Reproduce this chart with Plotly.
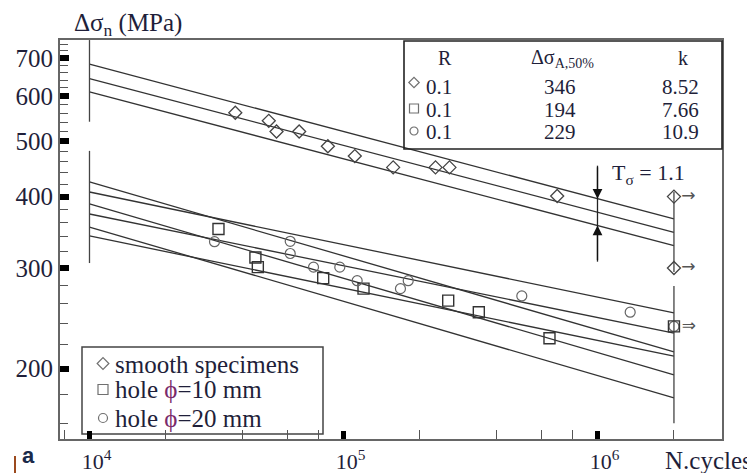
import math
import plotly.graph_objects as go

# ---------------- data ----------------
# smooth specimens (diamonds)
smooth_N = [37500, 50800, 54500, 66900, 86800, 110800, 156900, 230300, 261400, 693900]
smooth_S = [561, 543, 520, 520, 490, 471, 450, 450, 450, 401]
smooth_runout_S = [400, 300]

# hole phi = 10 mm (squares)
hole10_N = [32200, 45000, 46000, 83200, 119900, 258400, 341000, 647100]
hole10_S = [351, 313, 301, 288, 276, 263, 251, 226]
hole10_runout_S = [237]

# hole phi = 20 mm (circles)
hole20_N = [31060, 61700, 61700, 76200, 96700, 113200, 179800, 167600, 503500, 1345000]
hole20_S = [333.5, 334, 318, 301, 301, 285, 285, 276, 268, 251]
hole20_runout_S = [237]

runout_N = 2e6

# scatter bands (upper, median, lower) given at N = 1e4 and N = 2e6
band_N = [1e4, 2e6]
smooth_band = [[682.1, 365.5], [643.6, 346.4], [609.9, 328.2]]
hole10_band = [[424.3, 213.8], [388.3, 194.9], [353.8, 177.6]]
hole20_band = [[407.5, 250.2], [372.9, 230.7], [341.3, 210.3]]

# vertical limit lines at N = 1e4 and N = 2e6
limit_N = [1e4, 1e4, None, 1e4, 1e4, None, 2e6, 2e6, None, 2e6, 2e6]
limit_S = [752, 541, None, 481, 306, None, 408, 295, None, 279, 160.4]

# T_sigma indicator at N = 1e6
tsig_N = [1e6, 1e6]
tsig_line_S = [453.1, 307.7]
tsig_tip_S = [396.6, 355.9]
tsig_text = "T<sub>σ</sub> = 1.1"

# table
table_R = ["0.1", "0.1", "0.1"]
table_dsA = ["346", "194", "229"]
table_k = ["8.52", "7.66", "10.9"]

# axis ticks
y_tickvals = [200, 300, 400, 500, 600, 700]
y_ticktext = ["200", "300", "400", "500", "600", "700"]
y_minor = [v for v in range(160, 760, 20) if v not in y_tickvals]
x_tickvals = [1e4, 1e5, 1e6]
x_ticktext = ["10<sup>4</sup>", "10<sup>5</sup>", "10<sup>6</sup>"]
x_minor = [8e3, 2e4, 4e4, 6e4, 8e4, 2e5, 4e5, 6e5, 8e5, 2e6]

legend_labels = ["smooth specimens",
                 "hole <span style='color:#7a2a6a'>ϕ</span>=10 mm",
                 "hole <span style='color:#7a2a6a'>ϕ</span>=20 mm"]

# ---------------- layout helpers ----------------
# the page body keeps an 8 px default margin, so the figure is sized to fit the window
OFF = 8
W, H = 755 - OFF, 473 - OFF
PLOT_L, PLOT_R, PLOT_T, PLOT_B = 60, 722, 40, 439   # plot area in window pixels
ML, MT = PLOT_L - OFF, PLOT_T - OFF
MR = W - (PLOT_R - OFF)
MB = H - (PLOT_B - OFF)
PW, PH = PLOT_R - PLOT_L, PLOT_B - PLOT_T


def px(x):
    return (x - PLOT_L) / PW


def py(y):
    return (PLOT_B - y) / PH


SERIF = "Liberation Serif"
TXT = "#1f1f3a"
LINE = dict(color="#333333", width=1.3)

fig = go.Figure()

for band in (smooth_band, hole10_band, hole20_band):
    for s in band:
        fig.add_trace(go.Scatter(x=band_N, y=s, mode="lines", line=LINE,
                                 showlegend=False, hoverinfo="skip"))

fig.add_trace(go.Scatter(x=limit_N, y=limit_S, mode="lines", line=dict(color="#444", width=1.3),
                         showlegend=False, hoverinfo="skip"))
fig.add_trace(go.Scatter(x=tsig_N, y=tsig_line_S, mode="lines", line=dict(color="#222", width=1.3),
                         showlegend=False, hoverinfo="skip"))

mk_d = dict(symbol="diamond-open", size=10, color="#444", line=dict(width=1.3))
mk_s = dict(symbol="square-open", size=11, color="#333", line=dict(width=1.4))
mk_c = dict(symbol="circle-open", size=10, color="#666", line=dict(width=1.2))

fig.add_trace(go.Scatter(x=smooth_N, y=smooth_S, mode="markers", marker=mk_d, showlegend=False))
fig.add_trace(go.Scatter(x=hole10_N, y=hole10_S, mode="markers", marker=mk_s, showlegend=False))
fig.add_trace(go.Scatter(x=hole20_N, y=hole20_S, mode="markers", marker=mk_c, showlegend=False))

arrow_font = dict(family="DejaVu Sans", size=17, color="#555")
fig.add_trace(go.Scatter(x=[runout_N] * len(smooth_runout_S), y=smooth_runout_S, mode="markers+text",
                         marker=mk_d, text=["→"] * len(smooth_runout_S), textposition="middle right",
                         textfont=arrow_font, showlegend=False))
fig.add_trace(go.Scatter(x=[runout_N] * len(hole20_runout_S), y=hole20_runout_S, mode="markers",
                         marker=mk_c, showlegend=False))
fig.add_trace(go.Scatter(x=[runout_N] * len(hole10_runout_S), y=hole10_runout_S, mode="markers+text",
                         marker=mk_s, text=["⇒"] * len(hole10_runout_S), textposition="middle right",
                         textfont=arrow_font, showlegend=False))

# key symbols for the table and the legend box (overlay axes in paper units)
key_x = [px(414), px(414), px(414), px(103), px(103), px(103)]
key_y = [py(82.5), py(108.5), py(131), py(363.5), py(389.5), py(418)]
key_sym = ["diamond-open", "square-open", "circle-open"] * 2
key_size = [8, 9, 8, 9, 10, 9]
fig.add_trace(go.Scatter(x=key_x, y=key_y, xaxis="x2", yaxis="y2", mode="markers",
                         marker=dict(symbol=key_sym, size=key_size, color="#333", line=dict(width=1.2)),
                         showlegend=False, hoverinfo="skip"))

axis_common = dict(showgrid=False, zeroline=False, showline=True, linecolor="#666", linewidth=2,
                   mirror=True, ticks="inside", tickcolor="#000", automargin=False)

fig.update_layout(
    template="none",
    width=W, height=H,
    margin=dict(l=ML, r=MR, t=MT, b=MB, pad=0),
    paper_bgcolor="white", plot_bgcolor="white",
    showlegend=False, hovermode=False,
    xaxis=dict(type="log", range=[3.8839, 6.4902], tickmode="array", tickvals=x_tickvals,
               ticktext=x_ticktext, ticklen=8, tickwidth=4.5, ticklabelshift=7, ticklabelstandoff=2,
               tickfont=dict(family=SERIF, size=22, color=TXT),
               minor=dict(tickmode="array", tickvals=x_minor, ticks="inside", ticklen=9,
                          tickwidth=1.3, tickcolor="#555"),
               **axis_common),
    yaxis=dict(type="log", range=[2.1776, 2.8763], tickmode="array", tickvals=y_tickvals,
               ticktext=y_ticktext, ticklen=9, tickwidth=6, ticklabelstandoff=0,
               tickfont=dict(family=SERIF, size=25, color=TXT),
               minor=dict(tickmode="array", tickvals=y_minor, ticks="inside", ticklen=8,
                          tickwidth=1.3, tickcolor="#555"),
               **axis_common),
    xaxis2=dict(overlaying="x", range=[0, 1], visible=False, fixedrange=True, automargin=False),
    yaxis2=dict(overlaying="y", range=[0, 1], visible=False, fixedrange=True, automargin=False),
)

# boxes
fig.add_shape(type="rect", xref="paper", yref="paper", x0=px(404), x1=px(722), y0=py(149), y1=py(41),
              line=dict(color="#222", width=1.6), fillcolor="rgba(0,0,0,0)", layer="above")
fig.add_shape(type="rect", xref="paper", yref="paper", x0=px(82), x1=px(323), y0=py(434), y1=py(347),
              line=dict(color="#444", width=1.5), fillcolor="white", layer="below")
fig.add_shape(type="line", xref="paper", yref="paper", x0=px(15), x1=px(15), y0=py(456), y1=py(473),
              line=dict(color="#9c4a1e", width=2))


def note(text, x, y, size=22, xanchor="center", color=TXT, family=SERIF):
    fig.add_annotation(text=text, x=x, y=y, xref="paper", yref="paper", showarrow=False,
                       xanchor=xanchor, yanchor="middle", font=dict(family=family, size=size, color=color))


# axis titles
note("Δσ<sub>n</sub> (MPa)", px(72), py(24), size=25, xanchor="left")
note("N.cycles", px(754), py(460), size=25, xanchor="right")
note("<b>a</b>", px(28), py(455), size=22, family="Liberation Sans", color="#1a2a4a")

# table
note("R", px(445), py(58), size=20)
note("Δσ<sub>A,50%</sub>", px(562), py(58), size=20)
note("k", px(683), py(58), size=20)
row_y = [86.7, 110, 132.5]
for i in range(3):
    note(table_R[i], px(439), py(row_y[i]), size=21)
    note(table_dsA[i], px(560), py(row_y[i]), size=21)
    note(table_k[i], px(680), py(row_y[i]), size=21)

# legend box text
for lab, yy in zip(legend_labels, [364, 389.5, 418]):
    note(lab, px(113), py(yy), size=25, xanchor="left")

# T sigma
note(tsig_text, px(610), py(174), size=22, xanchor="left")
fig.add_annotation(x=6, y=math.log10(tsig_tip_S[0]), xref="x", yref="y", ax=0, ay=-33, text="",
                   showarrow=True, arrowhead=2, arrowsize=1.5, arrowwidth=1.3, arrowcolor="#111")
fig.add_annotation(x=6, y=math.log10(tsig_tip_S[1]), xref="x", yref="y", ax=0, ay=36, text="",
                   showarrow=True, arrowhead=2, arrowsize=1.5, arrowwidth=1.3, arrowcolor="#111")

fig.write_html("out.html")
